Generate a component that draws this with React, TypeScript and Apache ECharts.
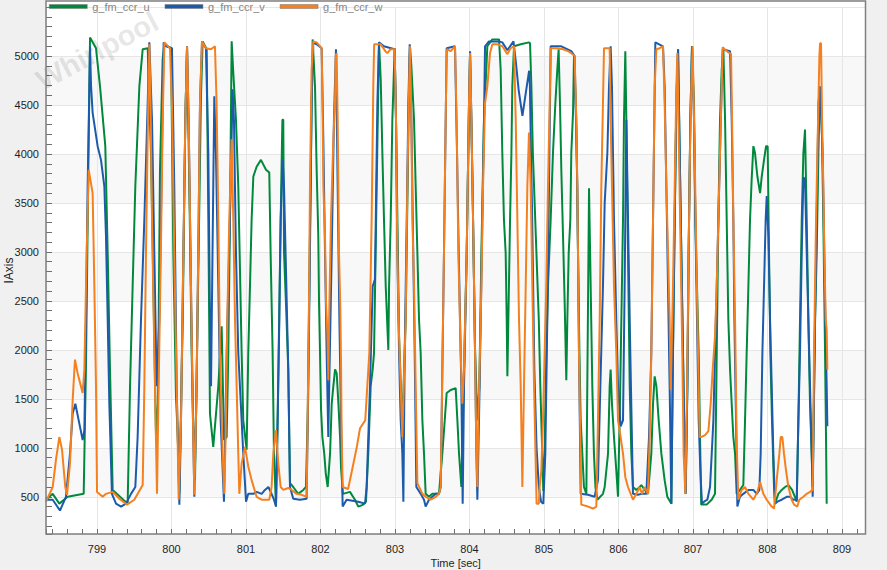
import React, { useEffect, useRef } from "react";
import * as echarts from "echarts";

const seriesNames = ["g_fm_ccr_u", "g_fm_ccr_v", "g_fm_ccr_w"];
const seriesColors = ["#00893c", "#1c5bab", "#f4801f"];
const xRange = [798.315, 809.315];
const yRange = [120, 5499];

const uPoints: [number, number][] = [
  [798.315,470],[798.405,530],[798.494,430],[798.606,500],[798.821,530],[798.852,1860],[798.883,3840],[798.906,5190],[798.986,5080],[799.04,4690],[799.111,4080],[799.143,2990],[799.174,1800],[799.21,570],[799.411,430],[799.443,1630],[799.478,2650],[799.514,3670],[799.568,4690],[799.613,5070],[799.68,5080],[799.725,3980],[799.756,2650],[799.792,1110],[799.818,1450],[799.845,3840],[799.881,4970],[799.904,5120],[799.993,5080],[800.024,2990],[800.06,1520],[800.082,1150],[800.105,530],[800.15,2310],[800.185,4350],[800.208,5100],[800.239,3670],[800.27,1970],[800.293,1220],[800.315,670],[800.342,1970],[800.373,3470],[800.395,4590],[800.418,5150],[800.472,5070],[800.494,3330],[800.516,1350],[800.56,1010],[800.628,1630],[800.673,2240],[800.704,1080],[800.74,1110],[800.762,1970],[800.784,3330],[800.807,5150],[800.829,4830],[800.865,4350],[800.896,3670],[800.941,1970],[800.963,1280],[801.008,980],[801.03,1970],[801.053,2650],[801.075,3330],[801.098,3770],[801.142,3870],[801.2,3940],[801.268,3840],[801.312,3810],[801.33,2990],[801.357,1970],[801.375,940],[801.402,400],[801.424,1280],[801.465,3330],[801.488,4350],[801.5,4350],[801.51,2990],[801.536,2480],[801.567,1800],[801.59,640],[801.634,600],[801.7,530],[801.768,570],[801.804,600],[801.827,1280],[801.849,2650],[801.872,4010],[801.894,5170],[801.903,5170],[801.926,4690],[801.948,3840],[801.97,3160],[801.98,2480],[801.993,1970],[802.007,1390],[802.025,1110],[802.05,940],[802.07,740],[802.096,600],[802.128,940],[802.15,1450],[802.172,1630],[802.195,1800],[802.217,1760],[802.24,1450],[802.262,1110],[802.275,800],[802.3,530],[802.395,550],[802.462,470],[802.507,400],[802.574,420],[802.61,450],[802.641,940],[802.673,1630],[802.7,1800],[802.718,1970],[802.754,3670],[802.785,5140],[802.808,4760],[802.83,4010],[802.852,3330],[802.875,2650],[802.91,2000],[802.92,2650],[802.942,3330],[802.964,4350],[802.995,5080],[803.013,4350],[803.054,2140],[803.098,1200],[803.143,2310],[803.188,4690],[803.201,5100],[803.219,4900],[803.233,4690],[803.255,4350],[803.277,3670],[803.3,2990],[803.322,2310],[803.344,1970],[803.367,1280],[803.389,940],[803.411,530],[803.455,500],[803.5,530],[803.59,530],[803.635,940],[803.667,1280],[803.693,1560],[803.747,1590],[803.814,1610],[803.837,1280],[803.859,940],[803.89,600],[803.926,1800],[803.962,2990],[803.993,4520],[804.007,5030],[804.04,3700],[804.074,2000],[804.105,1280],[804.132,1630],[804.159,2990],[804.194,4350],[804.239,5100],[804.306,5170],[804.396,5170],[804.418,4860],[804.44,4010],[804.462,3330],[804.485,2990],[804.499,2310],[804.508,1730],[804.521,2310],[804.544,3330],[804.562,4010],[804.574,4690],[804.597,5100],[804.687,5120],[804.798,5140],[804.812,5130],[804.83,4700],[804.85,4010],[804.89,3160],[804.93,2300],[804.95,1630],[804.97,1110],[804.99,560],[805.008,940],[805.03,1970],[805.053,2650],[805.089,3330],[805.12,4010],[805.152,4520],[805.178,4860],[805.196,5070],[805.214,4520],[805.232,3840],[805.255,3160],[805.277,2480],[805.299,1690],[805.313,2310],[805.331,2990],[805.353,3330],[805.366,4010],[805.389,4420],[805.402,5000],[805.433,4350],[805.456,2990],[805.475,1970],[805.492,1280],[805.514,940],[805.536,600],[805.568,530],[805.604,3650],[805.626,2650],[805.648,1630],[805.67,940],[805.69,600],[805.716,470],[805.791,530],[805.814,600],[805.859,940],[805.881,1630],[805.894,1800],[805.912,1450],[805.939,1110],[805.97,770],[805.993,500],[806.015,1280],[806.038,2310],[806.06,3330],[806.073,4350],[806.091,5050],[806.105,4350],[806.127,2990],[806.15,1630],[806.172,940],[806.194,600],[806.239,570],[806.284,600],[806.306,620],[806.351,570],[806.395,530],[806.44,940],[806.463,1450],[806.485,1730],[806.508,1630],[806.539,1280],[806.575,940],[806.619,670],[806.655,500],[806.709,430],[806.731,1970],[806.754,3330],[806.776,4520],[806.799,5070],[806.821,4010],[806.843,2990],[806.865,1970],[806.888,940],[806.901,530],[806.924,1630],[806.941,2990],[806.964,4350],[806.986,5100],[807.013,4520],[807.031,3330],[807.053,2650],[807.076,1970],[807.094,1100],[807.11,420],[807.183,420],[807.25,470],[807.295,530],[807.318,1970],[807.34,3330],[807.362,4350],[807.385,4860],[807.407,5080],[807.43,4350],[807.452,3330],[807.474,2310],[807.497,1800],[807.519,1450],[807.541,1110],[807.564,940],[807.586,530],[807.63,570],[807.675,620],[807.698,1280],[807.72,1970],[807.743,2650],[807.765,3330],[807.787,3740],[807.81,4080],[807.832,4010],[807.864,3770],[807.9,3600],[807.922,3770],[807.953,3940],[807.98,4080],[808.002,4080],[808.02,2990],[808.038,1970],[808.06,1280],[808.087,600],[808.1,430],[808.145,530],[808.19,570],[808.235,600],[808.28,620],[808.33,570],[808.392,450],[808.414,1280],[808.436,2310],[808.459,3330],[808.481,4010],[808.503,4250],[808.526,3330],[808.548,2310],[808.57,1450],[808.593,940],[808.606,600],[808.638,2310],[808.66,2990],[808.683,4010],[808.705,4690],[808.727,4350],[808.749,3330],[808.772,1970],[808.785,1110],[808.794,430]
];

const vPoints: [number, number][] = [
  [798.315,470],[798.405,470],[798.503,360],[798.583,500],[798.637,940],[798.673,1350],[798.709,1450],[798.762,1250],[798.807,1080],[798.83,1180],[798.852,2310],[798.874,3670],[798.897,4690],[798.906,5100],[798.92,4690],[798.941,4420],[799.008,4080],[799.053,3940],[799.098,3670],[799.12,3160],[799.143,2310],[799.165,1450],[799.2,530],[799.255,430],[799.322,400],[799.389,430],[799.456,530],[799.514,600],[799.545,1110],[799.59,2310],[799.635,3330],[799.68,4520],[799.702,5140],[799.738,4350],[799.769,2990],[799.8,1630],[799.836,2310],[799.872,4010],[799.894,5140],[799.926,5100],[800.006,5080],[800.037,3670],[800.069,1630],[800.105,420],[800.127,1280],[800.159,2990],[800.185,4350],[800.208,5100],[800.23,4350],[800.261,2650],[800.284,1450],[800.306,500],[800.337,1630],[800.364,3330],[800.382,4520],[800.409,5150],[800.462,5080],[800.494,4010],[800.516,2310],[800.53,1630],[800.55,2990],[800.574,4590],[800.596,4010],[800.628,2650],[800.659,1280],[800.704,450],[800.74,1970],[800.784,3330],[800.82,4660],[800.838,4350],[800.865,2990],[800.896,1970],[800.941,1280],[800.963,940],[801.0,450],[801.03,530],[801.098,530],[801.142,550],[801.21,530],[801.254,570],[801.3,600],[801.343,530],[801.375,470],[801.402,400],[801.424,1280],[801.447,2310],[801.465,3330],[801.492,3940],[801.51,3670],[801.536,2820],[801.567,1800],[801.59,600],[801.634,480],[801.724,470],[801.813,480],[801.836,1630],[801.858,2990],[801.88,4520],[801.903,5140],[801.948,5120],[802.015,5080],[802.037,4180],[802.06,2990],[802.082,1970],[802.104,1110],[802.118,1690],[802.15,2990],[802.18,4350],[802.207,5070],[802.23,3670],[802.253,2310],[802.275,1280],[802.297,400],[802.35,470],[802.507,450],[802.597,430],[802.619,600],[802.664,1630],[802.7,2650],[802.73,2720],[802.763,4520],[802.785,5140],[802.85,5100],[802.995,5070],[803.013,4350],[803.031,2990],[803.054,1970],[803.076,1280],[803.098,940],[803.112,450],[803.13,1970],[803.157,3330],[803.179,4520],[803.197,5120],[803.219,4350],[803.245,2990],[803.264,1970],[803.286,600],[803.345,530],[803.389,470],[803.411,400],[803.455,470],[803.546,530],[803.59,530],[803.613,600],[803.635,1800],[803.657,2990],[803.68,4350],[803.693,5080],[803.805,5100],[803.832,4010],[803.855,2990],[803.89,1630],[803.908,430],[803.926,1630],[803.962,2990],[803.993,4520],[804.007,5050],[804.025,4350],[804.051,3160],[804.074,1970],[804.091,980],[804.105,470],[804.127,1280],[804.15,2310],[804.172,3330],[804.194,4350],[804.208,5100],[804.261,5150],[804.396,5150],[804.44,5140],[804.508,5060],[804.59,5150],[804.62,4950],[804.66,4650],[804.71,4390],[804.76,4650],[804.8,4850],[804.81,4700],[804.825,4000],[804.84,3400],[804.855,2600],[804.87,1800],[804.9,1000],[804.93,600],[804.96,450],[804.99,430],[805.017,940],[805.044,2310],[805.067,3670],[805.089,5100],[805.232,5100],[805.366,5050],[805.411,5000],[805.447,3670],[805.469,1970],[805.492,530],[805.59,520],[805.679,500],[805.724,670],[805.756,1630],[805.791,2650],[805.814,3500],[805.85,4010],[805.872,4690],[805.894,5100],[805.912,4690],[805.939,3330],[805.97,2310],[805.993,1630],[806.028,1220],[806.06,1280],[806.082,2650],[806.105,4350],[806.127,3330],[806.158,1970],[806.194,530],[806.261,520],[806.306,530],[806.373,530],[806.409,1110],[806.44,1970],[806.463,3330],[806.494,5140],[806.597,5100],[806.619,4690],[806.642,3670],[806.664,2650],[806.686,1630],[806.709,430],[806.731,1970],[806.754,3330],[806.776,4520],[806.799,5070],[806.821,4010],[806.843,2990],[806.865,1970],[806.888,940],[806.901,530],[806.924,1630],[806.941,2990],[806.964,4350],[806.986,5100],[807.013,4350],[807.031,3330],[807.053,2310],[807.076,1280],[807.098,770],[807.12,430],[807.148,450],[807.192,470],[807.228,600],[807.251,940],[807.273,1280],[807.295,1970],[807.318,2650],[807.34,3330],[807.362,4010],[807.385,4690],[807.398,5070],[807.497,5050],[807.519,4350],[807.541,3330],[807.555,2310],[807.577,1280],[807.595,400],[807.63,500],[807.675,530],[807.743,570],[807.81,570],[807.855,530],[807.89,570],[807.908,940],[807.931,1970],[807.953,2650],[807.975,3330],[807.989,3570],[808.011,3160],[808.034,2310],[808.056,1630],[808.078,940],[808.1,430],[808.132,450],[808.19,470],[808.257,500],[808.302,500],[808.347,470],[808.392,470],[808.414,1280],[808.436,1970],[808.459,2990],[808.481,3760],[808.503,3740],[808.526,2990],[808.548,2310],[808.57,1630],[808.593,940],[808.606,500],[808.638,2310],[808.66,3330],[808.683,4520],[808.705,4690],[808.74,4010],[808.758,3160],[808.776,2310],[808.794,1630],[808.803,1220]
];

const wPoints: [number, number][] = [
  [798.315,450],[798.405,600],[798.449,880],[798.494,1110],[798.53,980],[798.574,600],[798.597,520],[798.637,840],[798.673,1490],[798.704,1900],[798.74,1760],[798.807,1560],[798.83,1800],[798.861,2990],[798.888,3840],[798.91,3740],[798.941,3600],[798.964,2650],[798.986,1630],[799.0,550],[799.076,500],[799.12,530],[799.21,550],[799.3,480],[799.402,420],[799.5,470],[799.613,620],[799.635,1630],[799.657,2990],[799.68,4180],[799.702,5120],[799.715,4690],[799.738,3330],[799.769,1970],[799.805,530],[799.827,1630],[799.86,3160],[799.881,4350],[799.904,5140],[799.979,5080],[800.006,4490],[800.037,2990],[800.069,1630],[800.096,470],[800.127,1280],[800.159,2990],[800.185,4350],[800.208,5100],[800.23,4350],[800.261,2650],[800.284,1450],[800.306,520],[800.337,1630],[800.364,3330],[800.382,4520],[800.409,5150],[800.462,5080],[800.53,5070],[800.583,5100],[800.605,4520],[800.628,3330],[800.65,1970],[800.686,940],[800.708,530],[800.726,1110],[800.749,2310],[800.775,3330],[800.807,4150],[800.829,3330],[800.852,2310],[800.874,1630],[800.896,940],[800.91,530],[800.941,840],[800.986,1010],[801.03,810],[801.075,670],[801.142,500],[801.21,470],[801.312,470],[801.343,600],[801.366,940],[801.402,1180],[801.433,840],[801.465,600],[801.5,570],[801.567,590],[801.612,570],[801.679,530],[801.746,520],[801.813,500],[801.827,1280],[801.845,2480],[801.858,3670],[801.88,4860],[801.903,5150],[801.948,5140],[802.015,5080],[802.025,4590],[802.038,3670],[802.06,3160],[802.074,2480],[802.092,2170],[802.105,1690],[802.115,2300],[802.14,3330],[802.172,4150],[802.195,4560],[802.203,5000],[802.216,5030],[802.23,4350],[802.248,2990],[802.266,2410],[802.275,1860],[802.284,1110],[802.297,600],[802.37,580],[802.42,760],[802.485,1000],[802.53,1200],[802.6,1280],[802.655,1970],[802.686,3330],[802.708,4690],[802.72,5120],[802.808,5120],[802.87,5050],[802.897,5030],[802.94,5070],[802.995,5070],[803.013,4350],[803.031,2990],[803.054,2140],[803.076,1630],[803.098,1110],[803.143,2310],[803.165,3670],[803.188,4690],[803.201,5100],[803.219,4350],[803.233,3330],[803.255,2650],[803.277,1630],[803.3,640],[803.367,530],[803.411,500],[803.479,470],[803.546,500],[803.59,530],[803.613,600],[803.635,1800],[803.657,2990],[803.68,4350],[803.693,5070],[803.747,5050],[803.805,5100],[803.827,4350],[803.85,2990],[803.881,1970],[803.904,1450],[803.926,1800],[803.962,2990],[803.993,4520],[804.007,5030],[804.025,4350],[804.051,3160],[804.074,1970],[804.091,1010],[804.105,600],[804.118,1280],[804.14,1970],[804.159,2650],[804.181,3670],[804.208,4520],[804.239,4690],[804.275,5030],[804.306,5120],[804.373,5120],[804.44,5100],[804.508,5020],[804.552,5080],[804.597,5100],[804.62,4350],[804.642,3330],[804.664,2310],[804.687,1630],[804.709,600],[804.731,1630],[804.754,2650],[804.776,3670],[804.798,4220],[804.821,3670],[804.843,2650],[804.866,1630],[804.9,430],[804.93,430],[804.941,600],[804.964,770],[804.986,1280],[805.008,1970],[805.03,2650],[805.053,3670],[805.076,4520],[805.089,5080],[805.178,5080],[805.255,5070],[805.322,5050],[805.366,5030],[805.411,5000],[805.433,4350],[805.447,3670],[805.456,2990],[805.469,1970],[805.487,1110],[805.5,420],[805.59,400],[805.657,380],[805.702,400],[805.724,1280],[805.747,2310],[805.769,3670],[805.791,4520],[805.805,5080],[805.881,5080],[805.894,4350],[805.912,3670],[805.939,2650],[805.97,1970],[805.993,1280],[806.028,1110],[806.06,940],[806.091,700],[806.127,600],[806.194,470],[806.239,530],[806.284,600],[806.315,530],[806.351,600],[806.395,530],[806.418,1110],[806.44,1970],[806.463,3330],[806.485,4690],[806.508,5070],[806.552,5080],[806.597,5100],[806.619,4520],[806.642,3670],[806.664,2990],[806.686,2310],[806.7,1590],[806.712,1970],[806.731,2650],[806.754,3670],[806.776,4690],[806.79,5030],[806.812,4010],[806.834,2990],[806.856,1970],[806.874,940],[806.897,530],[806.92,1630],[806.941,2990],[806.959,4010],[806.977,4690],[806.995,5100],[807.022,4010],[807.044,2990],[807.067,1970],[807.089,1110],[807.107,1110],[807.161,1130],[807.206,1170],[807.237,1450],[807.264,1800],[807.295,2140],[807.318,2650],[807.34,3330],[807.362,4010],[807.385,4690],[807.398,5090],[807.452,5050],[807.51,5020],[807.524,4350],[807.541,3330],[807.564,2310],[807.586,1050],[807.608,470],[807.653,570],[807.698,600],[807.743,530],[807.81,470],[807.864,550],[807.9,650],[807.944,530],[807.989,470],[808.056,400],[808.087,380],[808.123,670],[808.159,940],[808.177,1110],[808.199,1110],[808.221,940],[808.248,770],[808.28,600],[808.324,470],[808.356,420],[808.4,400],[808.427,470],[808.481,500],[808.526,530],[808.57,550],[808.606,570],[808.624,1970],[808.651,3330],[808.669,4010],[808.683,4520],[808.696,5000],[808.705,5130],[808.718,5130],[808.732,4350],[808.749,3670],[808.763,2990],[808.781,2310],[808.794,2200],[808.803,1800]
];

const seriesPoints = [uPoints, vPoints, wPoints];
const xAxisName = "Time [sec]";
const yAxisName = "IAxis";
const watermarkText = "Whirlpool";

export default function App() {
  const ref = useRef<HTMLDivElement>(null);
  useEffect(() => {
    if (!ref.current) return;
    const chart = echarts.init(ref.current, undefined, { renderer: "svg" });
    const font = "'Liberation Sans', Arial, sans-serif";
    const tickColor = "#6e6e6e";
    const plotLeft = 46;
    const plotRight = 865.5;
    const frameTop = 1;
    const plotBottom = 534;
    chart.setOption({
      animation: false,
      backgroundColor: "#f0f0f0",
      textStyle: { fontFamily: font },
      grid: {
        left: plotLeft,
        right: 887 - plotRight,
        top: 7.2,
        bottom: 570 - plotBottom,
        containLabel: false,
        outerBoundsMode: "none",
        show: true,
        backgroundColor: "#ffffff",
        borderWidth: 0,
      },
      legend: {
        left: 49,
        top: 1,
        padding: 0,
        icon: "rect",
        itemWidth: 38,
        itemHeight: 4,
        itemGap: 15,
        textStyle: { color: "#858585", fontSize: 11, fontFamily: font },
        itemStyle: { borderColor: "#777777", borderWidth: 0.5 },
        data: seriesNames,
      },
      graphic: [
        {
          type: "rect",
          z: 0,
          silent: true,
          shape: { x: plotLeft, y: frameTop, width: plotRight - plotLeft, height: 7 },
          style: { fill: "#ffffff" },
        },
        {
          type: "text",
          x: 45,
          y: 95,
          rotation: 0.49,
          z: 1,
          silent: true,
          style: {
            text: watermarkText,
            fill: "rgba(0,0,0,0.11)",
            font: "bold 29px 'Liberation Sans', Arial, sans-serif",
            textAlign: "left",
            textVerticalAlign: "bottom",
          },
        },
        {
          type: "rect",
          z: 100,
          silent: true,
          shape: { x: plotLeft, y: frameTop, width: plotRight - plotLeft, height: plotBottom - frameTop },
          style: { fill: "none", stroke: "#808080", lineWidth: 1.5 },
        },
      ],
      xAxis: {
        type: "value",
        min: xRange[0],
        max: xRange[1],
        minInterval: 1,
        maxInterval: 1,
        name: xAxisName,
        nameLocation: "middle",
        nameGap: 23,
        nameMoveOverlap: false,
        nameTextStyle: { color: "#1e1e1e", fontSize: 11 },
        axisLine: { show: false },
        axisTick: { show: true, inside: true, length: 5, lineStyle: { color: tickColor } },
        minorTick: { show: true, splitNumber: 5, length: 5, lineStyle: { color: tickColor } },
        axisLabel: {
          color: "#1e1e1e",
          fontSize: 11,
          margin: 9,
          showMinLabel: false,
          showMaxLabel: false,
          formatter: (v: number) => String(Math.round(v)),
        },
        splitLine: { show: true, lineStyle: { color: "#e6e6e6", width: 1 } },
      },
      yAxis: {
        type: "value",
        min: yRange[0],
        max: yRange[1],
        minInterval: 500,
        maxInterval: 500,
        name: yAxisName,
        nameLocation: "middle",
        nameGap: 31,
        nameMoveOverlap: false,
        nameTextStyle: { color: "#1e1e1e", fontSize: 12 },
        axisLine: { show: false },
        axisTick: { show: true, inside: true, length: 6, lineStyle: { color: tickColor } },
        minorTick: { show: true, splitNumber: 5, length: 6, lineStyle: { color: tickColor } },
        axisLabel: {
          color: "#1e1e1e",
          fontSize: 11,
          margin: 7,
          showMinLabel: false,
          showMaxLabel: false,
          formatter: (v: number) => String(Math.round(v)),
        },
        splitLine: { show: true, lineStyle: { color: "#e6e6e6", width: 1 } },
        splitArea: { show: true, areaStyle: { color: ["#ffffff", "#f8f8f8"] } },
      },
      series: seriesNames.map((name, i) => ({
        name,
        type: "line",
        data: seriesPoints[i],
        showSymbol: false,
        symbol: "none",
        clip: true,
        color: seriesColors[i],
        lineStyle: { color: seriesColors[i], width: 2 },
        z: 2 + i,
      })),
    });
    return () => chart.dispose();
  }, []);
  return (
    <div
      ref={ref}
      style={{ position: "absolute", left: 0, top: 0, width: 887, height: 570 }}
    />
  );
}
